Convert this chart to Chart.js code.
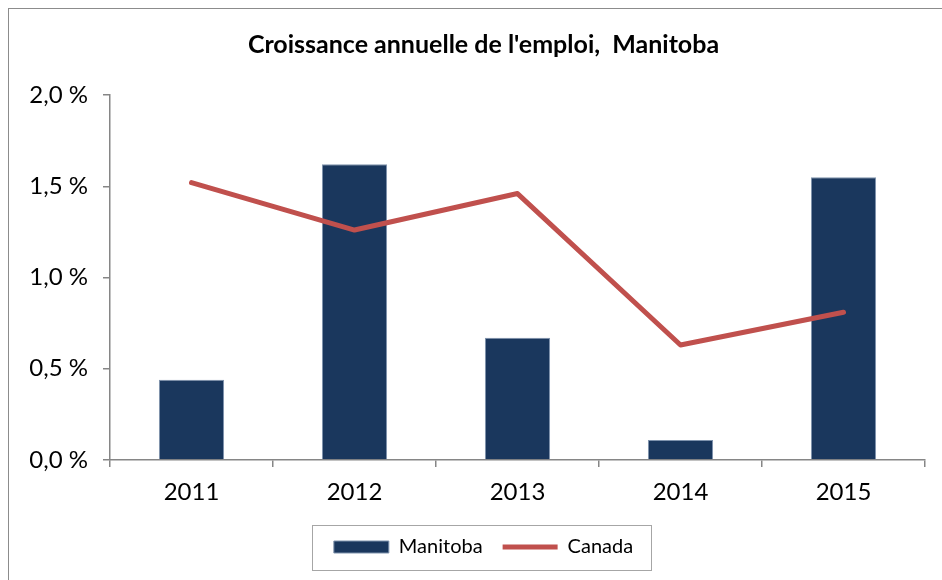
<!DOCTYPE html>
<html>
<head>
<meta charset="utf-8">
<script src="https://cdn.jsdelivr.net/npm/chart.js@4/dist/chart.umd.min.js"></script>
<style>
  html, body { margin: 0; padding: 0; background: #fff; }
  #wrap { width: 942px; height: 580px; }
</style>
</head>
<body>
<div id="wrap"><canvas id="emploiChart" width="942" height="580"></canvas></div>
<script>
// données
const years = ["2011", "2012", "2013", "2014", "2015"];
const manitoba = [0.44, 1.62, 0.67, 0.11, 1.55];
const canada = [1.52, 1.26, 1.46, 0.63, 0.81];
const yTicks = [0, 0.5, 1.0, 1.5, 2.0];

const FONT = "Lato, 'Open Sans', sans-serif";
const AXIS_GREY = "#868686";

// cadre extérieur (coupé à droite et en bas comme sur l'original)
const framePlugin = {
    id: "frame",
    beforeDraw(chart) {
        const ctx = chart.ctx;
        ctx.save();
        ctx.fillStyle = "#fff";
        ctx.fillRect(0, 0, chart.width, chart.height);
        ctx.strokeStyle = "#8c8c8c";
        ctx.lineWidth = 1;
        ctx.strokeRect(8.5, 8.5, 1000, 1000);
        ctx.restore();
    },
};

// titre et légende centrés sur le cadre, pas sur le canvas
const shiftPlugin = {
    id: "shiftBlocks",
    afterLayout(chart) {
        for (const b of [chart.titleBlock, chart.legend]) {
            if (b) { b.left += 21; b.right += 21; }
        }
    },
};

// encadré autour de la légende
const legendBoxPlugin = {
    id: "legendBox",
    afterDraw(chart) {
        const lg = chart.legend;
        if (!lg || !lg.legendHitBoxes || !lg.legendHitBoxes.length) return;
        const boxes = lg.legendHitBoxes;
        const left = Math.min(...boxes.map(b => b.left)) - 22;
        const right = Math.max(...boxes.map(b => b.left + b.width)) + 18;
        const cy = boxes[0].top + boxes[0].height / 2;
        const ctx = chart.ctx;
        ctx.save();
        ctx.strokeStyle = "#a6a6a6";
        ctx.lineWidth = 1;
        ctx.strokeRect(Math.round(left) + 0.5, Math.round(cy - 22) + 0.5,
            Math.round(right - left), 45);
        ctx.restore();
    },
};

const chart = new Chart(document.getElementById("emploiChart").getContext("2d"), {
    data: {
        labels: years,
        datasets: [
            {
                type: "bar",
                label: "Manitoba",
                data: manitoba,
                backgroundColor: "#1a375d",
                borderColor: "#7f93ad",
                borderWidth: 1,
                barPercentage: 0.4,
                categoryPercentage: 1.0,
                pointStyle: "rect",
                order: 1,
            },
            {
                type: "line",
                label: "Canada",
                data: canada,
                borderColor: "#c0504d",
                backgroundColor: "#c0504d",
                borderWidth: 5,
                borderCapStyle: "round",
                borderJoinStyle: "round",
                pointRadius: 0,
                pointStyle: "line",
                tension: 0,
                order: 0,
            },
        ],
    },
    options: {
        responsive: false,
        animation: false,
        layout: { padding: { left: 0, right: 17, top: 0, bottom: 13 } },
        plugins: {
            title: {
                display: true,
                text: "Croissance annuelle de l'emploi,  Manitoba",
                color: "#000",
                font: { family: FONT, size: 25, weight: "bold" },
                padding: { top: 30, bottom: 35 },
            },
            legend: {
                position: "bottom",
                labels: {
                    usePointStyle: true,
                    pointStyleWidth: 55,
                    boxHeight: 12,
                    padding: 20,
                    color: "#000",
                    font: { family: FONT, size: 20 },
                    sort: (a, b) => a.datasetIndex - b.datasetIndex,
                },
            },
            tooltip: { enabled: false },
        },
        scales: {
            x: {
                offset: true,
                afterFit: (scale) => { scale.height = 57; },
                grid: {
                    offset: true,
                    drawOnChartArea: false,
                    drawTicks: true,
                    tickLength: 7,
                    color: AXIS_GREY,
                    lineWidth: 1.5,
                },
                border: { color: AXIS_GREY, width: 1.5 },
                ticks: {
                    color: "#000",
                    padding: 11,
                    font: { family: FONT, size: 24 },
                },
            },
            y: {
                min: 0,
                max: 2,
                afterFit: (scale) => { scale.width = 110; },
                afterBuildTicks: (scale) => { scale.ticks = yTicks.map(v => ({ value: v })); },
                grid: {
                    drawOnChartArea: false,
                    drawTicks: true,
                    tickLength: 7,
                    color: AXIS_GREY,
                    lineWidth: 1.5,
                },
                border: { color: AXIS_GREY, width: 1.5 },
                ticks: {
                    color: "#000",
                    padding: 15,
                    font: { family: FONT, size: 24 },
                    callback: (v) => v.toFixed(1).replace(".", ",") + " %",
                },
            },
        },
    },
    plugins: [framePlugin, shiftPlugin, legendBoxPlugin],
});
</script>
</body>
</html>
